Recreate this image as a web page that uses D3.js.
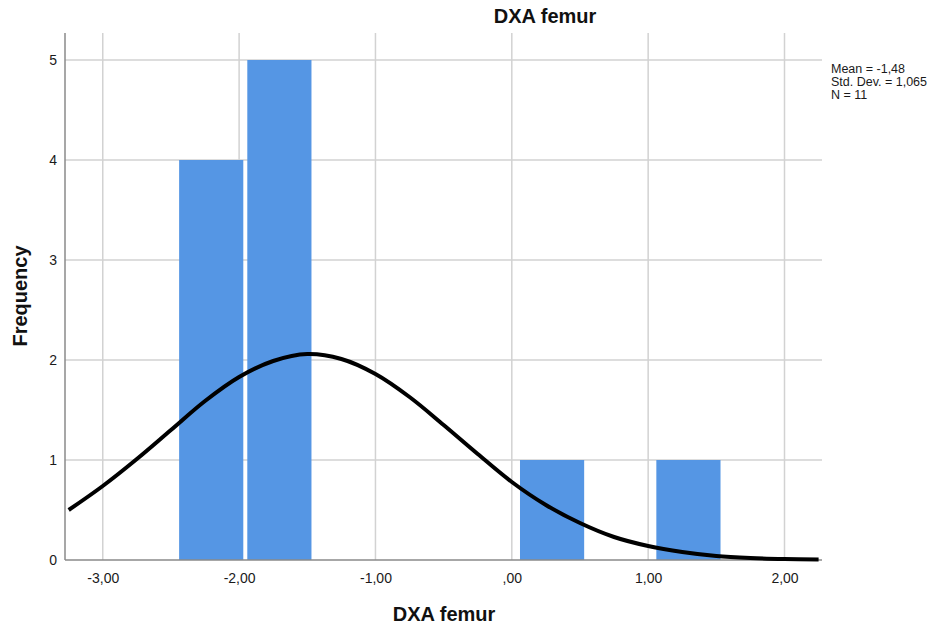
<!DOCTYPE html>
<html>
<head>
<meta charset="utf-8">
<script src="https://cdn.jsdelivr.net/npm/d3@7"></script>
<style>
    body { margin: 0; background: #fff; }
    text { font-family: "Liberation Sans", Arial, sans-serif; }
</style>
</head>
<body>
<div id="canvas"></div>
<script>
"use strict";

// Data

let binStarts = [-2.44, -1.94, 0.06, 1.06];
let binCounts = [4, 5, 1, 1];
let binWidth = 0.5;

// normal curve (mean -1,48, sd 1,065, N 11)
let curveX = [-3.25, -3.0, -2.75, -2.5, -2.25, -2.0, -1.75, -1.5, -1.25, -1.0, -0.75,
    -0.5, -0.25, 0, 0.25, 0.5, 0.75, 1.0, 1.25, 1.5, 1.75, 2.0, 2.25];
let curveY = [0.50, 0.74, 1.01, 1.30, 1.59, 1.83, 1.99, 2.06, 2.01, 1.86, 1.63,
    1.35, 1.06, 0.78, 0.55, 0.37, 0.23, 0.14, 0.08, 0.04, 0.02, 0.01, 0.005];

let xTicks = [-3, -2, -1, 0, 1, 2];
let yTicks = [0, 1, 2, 3, 4, 5];
let statLines = ["Mean = -1,48", "Std. Dev. = 1,065", "N = 11"];

let titleText = "DXA femur";
let xLabel = "DXA femur";
let yLabel = "Frequency";

/*
   SVG setup
*/

let svgWidth = 946;
let svgHeight = 630;

let plotLeft = 65;
let plotRight = 822;
let plotTop = 33;
let plotBottom = 560;

let svg = d3.select("#canvas")
    .append("svg")
    .attr("width", svgWidth)
    .attr("height", svgHeight);

// Scales
let xScale = d3.scaleLinear()
    .domain([-3.277, 2.275])
    .range([plotLeft, plotRight]);

let yScale = d3.scaleLinear()
    .domain([0, 5])
    .range([plotBottom, 60]);

// SPSS style: comma decimals, no leading zero, plain hyphen
function fmtX(d) {
    let s = d3.format(".2f")(d).replace("\u2212", "-").replace(".", ",");
    return s.replace(/^0,/, ",").replace(/^-0,/, "-,");
}

// Grid lines
let gridColor = "#d2d2d2";

svg.append("g")
    .selectAll("line")
    .data(xTicks)
    .join("line")
    .attr("x1", d => xScale(d))
    .attr("x2", d => xScale(d))
    .attr("y1", plotTop)
    .attr("y2", plotBottom)
    .attr("stroke", gridColor)
    .attr("stroke-width", 1.5);

svg.append("g")
    .selectAll("line")
    .data(yTicks.filter(d => d > 0))
    .join("line")
    .attr("x1", plotLeft)
    .attr("x2", plotRight)
    .attr("y1", d => yScale(d))
    .attr("y2", d => yScale(d))
    .attr("stroke", gridColor)
    .attr("stroke-width", 1.5);

// Bars
svg.append("g")
    .selectAll("rect")
    .data(binStarts.map((s, i) => ({ x0: s, x1: s + binWidth, n: binCounts[i] })))
    .join("rect")
    .attr("x", d => xScale(d.x0))
    .attr("width", d => xScale(d.x1) - xScale(d.x0) - 4)
    .attr("y", d => yScale(d.n))
    .attr("height", d => yScale(0) - yScale(d.n))
    .attr("fill", "#5596e4");

// Axes
let xAxis = svg.append("g")
    .attr("transform", `translate(0, ${plotBottom})`)
    .call(d3.axisBottom(xScale).tickValues(xTicks).tickFormat(fmtX).tickSize(0).tickPadding(13));

let yAxis = svg.append("g")
    .attr("transform", `translate(${plotLeft}, 0)`)
    .call(d3.axisLeft(yScale).tickValues(yTicks).tickFormat(d3.format("d")).tickSize(0).tickPadding(8));

[xAxis, yAxis].forEach(ax => {
    ax.select(".domain").remove();
    ax.selectAll("text")
        .attr("font-size", 14)
        .attr("fill", "#1a1a1a")
        .style("font-family", "'Liberation Sans', Arial, sans-serif");
});

svg.append("line")
    .attr("x1", plotLeft).attr("x2", plotLeft)
    .attr("y1", plotTop).attr("y2", plotBottom)
    .attr("stroke", "#8a8a8a")
    .attr("stroke-width", 1.5);

svg.append("line")
    .attr("x1", plotLeft).attr("x2", plotRight)
    .attr("y1", plotBottom).attr("y2", plotBottom)
    .attr("stroke", "#8a8a8a")
    .attr("stroke-width", 1.5);

// Normal curve
let line = d3.line()
    .x(d => xScale(d[0]))
    .y(d => yScale(d[1]))
    .curve(d3.curveCatmullRom);

svg.append("path")
    .datum(curveX.map((x, i) => [x, curveY[i]]))
    .attr("d", line)
    .attr("fill", "none")
    .attr("stroke", "#000")
    .attr("stroke-width", 4);

// Titles
svg.append("text")
    .attr("x", 545)
    .attr("y", 23)
    .attr("text-anchor", "middle")
    .attr("font-weight", "bold")
    .attr("font-size", 20)
    .attr("fill", "#111")
    .text(titleText);

svg.append("text")
    .attr("x", 444)
    .attr("y", 621)
    .attr("text-anchor", "middle")
    .attr("font-weight", "bold")
    .attr("font-size", 20)
    .attr("fill", "#111")
    .text(xLabel);

svg.append("text")
    .attr("transform", "rotate(-90)")
    .attr("x", -296)
    .attr("y", 27)
    .attr("text-anchor", "middle")
    .attr("font-weight", "bold")
    .attr("font-size", 20)
    .attr("fill", "#111")
    .text(yLabel);

// Stats box
svg.append("g")
    .selectAll("text")
    .data(statLines)
    .join("text")
    .attr("x", 831)
    .attr("y", (d, i) => 73 + i * 13)
    .attr("font-size", 12.5)
    .attr("fill", "#1a1a1a")
    .text(d => d);
</script>
</body>
</html>
